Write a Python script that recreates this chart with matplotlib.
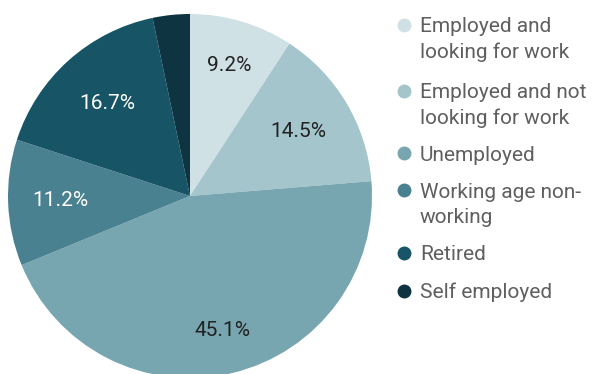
import numpy as np
import matplotlib.pyplot as plt

plt.rcParams['font.family'] = ['Roboto', 'DejaVu Sans']

categories = ["Employed and\nlooking for work", "Employed and not\nlooking for work",
              "Unemployed", "Working age non-\nworking", "Retired", "Self employed"]
shares = [9.2, 14.5, 45.1, 11.2, 16.7, 3.3]
labels = ["9.2%", "14.5%", "45.1%", "11.2%", "16.7%", ""]

colors = ["#cfe1e5", "#a3c5cb", "#77a5b0", "#4a8190", "#175566", "#0d3440"]
label_colors = ["#222222", "#222222", "#222222", "#ffffff", "#ffffff", "#ffffff"]
label_radius = [0.75, 0.69, 0.76, 0.71, 0.68, 0.7]

W, H = 597, 374
fig = plt.figure(figsize=(W / 100, H / 100), dpi=100)

# pie centred at (190, 196) px with radius 182 px
cx, cy, r = 190, 196, 182
ax = fig.add_axes([(cx - r) / W, (H - cy - r) / H, 2 * r / W, 2 * r / H])
wedges, _ = ax.pie(shares, colors=colors, startangle=90, counterclock=False,
                   radius=1, wedgeprops=dict(linewidth=0))
ax.set_xlim(-1, 1)
ax.set_ylim(-1, 1)
ax.set_aspect('equal')
ax.axis('off')

total = sum(shares)
start = 0.0
for val, lab, col, rad in zip(shares, labels, label_colors, label_radius):
    mid = np.deg2rad(90 - (start + val / 2) / total * 360)
    start += val
    if lab:
        ax.text(rad * np.cos(mid), rad * np.sin(mid), lab, ha='center', va='center',
                fontsize=15, color=col)

# legend: dot + wrapped text, one line every 25 px
item_y = [25, 91, 153, 190, 253, 291]
for name, col, y in zip(categories, colors, item_y):
    fig.lines.append(plt.Line2D([404 / W], [1 - y / H], marker='o', markersize=9,
                                color=col, linestyle='none', transform=fig.transFigure))
    for i, line in enumerate(name.split("\n")):
        fig.text(420 / W, 1 - (y + 25 * i + 7.5) / H, line, ha='left', va='baseline',
                 fontsize=15, color='#5f5f5f')

fig.savefig('out.png', dpi=100)
